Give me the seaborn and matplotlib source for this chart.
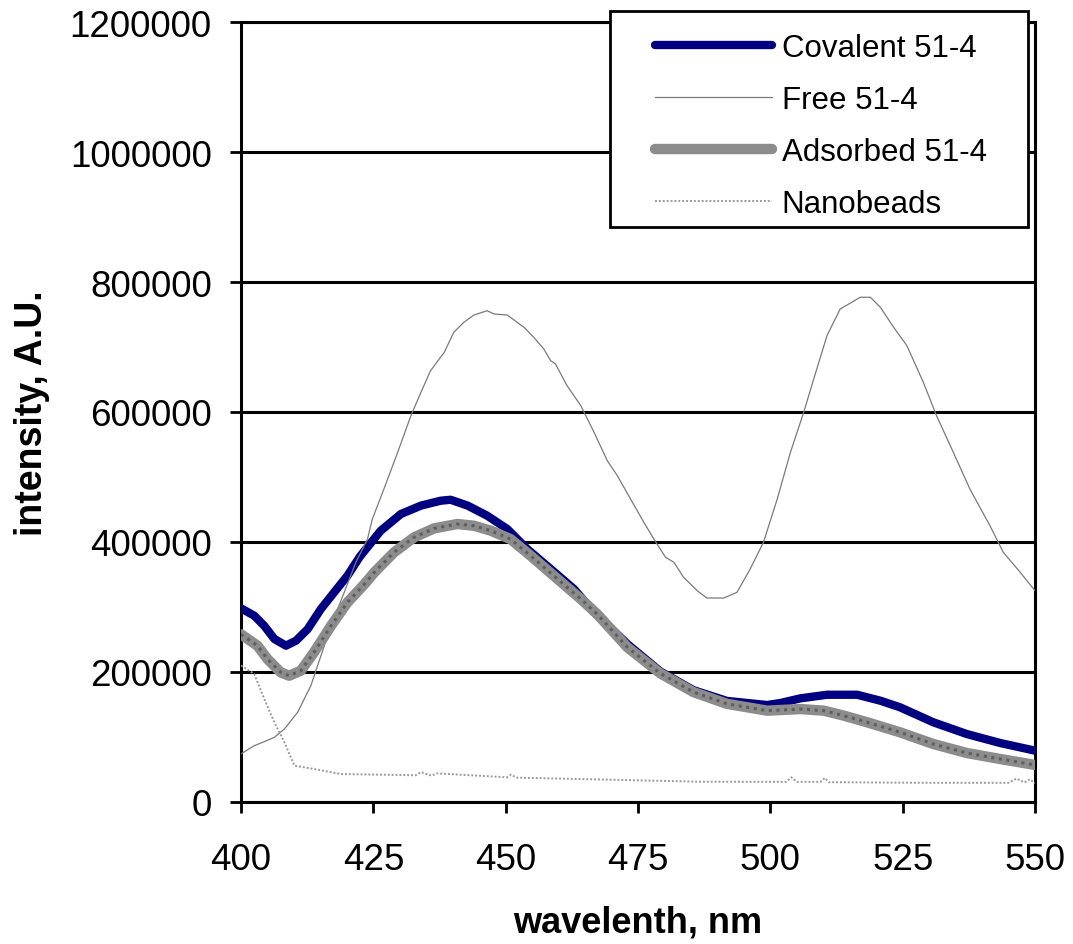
import numpy as np
import pandas as pd
import matplotlib
matplotlib.use("Agg")
import matplotlib.pyplot as plt
from matplotlib.patches import Rectangle
import seaborn as sns

# Emission spectra (wavelength in nm, intensity in A.U.)
covalent_wl = [400, 402.5, 404.4, 406.3, 408.5, 410.4, 412.6, 415.1, 417.6, 420.1,
               422.5, 426.4, 430.2, 434.0, 437.7, 439.6, 442.8, 446.5, 450.3, 454.1,
               458.5, 462.9, 466.7, 473.0, 479.2, 485.5, 491.8, 499.4, 501.9, 505.7,
               510.7, 516.4, 520.8, 524.5, 530.8, 537.1, 543.4, 550]
covalent_int = [298000, 286600, 271000, 250800, 240500, 248200, 266000, 297000, 322600, 348000,
                378000, 417400, 443000, 456000, 463500, 465000, 456000, 440500, 420000, 389000,
                358500, 327700, 292000, 243000, 201000, 172000, 155500, 149200, 152300, 159500,
                165000, 165000, 155800, 145700, 122600, 104600, 90800, 79000]

free_wl = [400, 402.5, 404.4, 406.3, 408.2, 410.7, 413.2, 415.1, 417.0, 419.5,
           421.7, 423.9, 424.8, 427.0, 429.6, 432.1, 434.0, 435.8, 438.4, 440.2,
           442.1, 444.0, 446.5, 447.8, 450.3, 453.5, 455.3, 457.2, 458.5, 459.4,
           461.6, 464.2, 466.7, 469.2, 471.1, 473.6, 476.1, 478.0, 480.2, 481.8,
           483.6, 486.2, 488.0, 491.2, 493.7, 496.2, 498.7, 501.3, 503.8, 506.3,
           508.2, 510.7, 513.2, 517.0, 518.9, 520.8, 523.3, 525.8, 528.9, 531.4,
           534.0, 537.7, 541.5, 544.0, 547.2, 550]
free_int = [74000, 86600, 92800, 99500, 112300, 138000, 179000, 225000, 271000, 322600,
            368700, 404600, 435000, 481500, 538000, 594300, 630300, 663500, 691800, 722600,
            738000, 749200, 755800, 750800, 749200, 730000, 715000, 697000, 679000, 674000,
            640500, 609700, 568700, 525000, 502000, 466000, 430300, 404600, 376500, 368700,
            345700, 325000, 313800, 313800, 322600, 358500, 399500, 466000, 538000, 599500,
            650800, 717400, 758500, 776500, 776500, 761000, 730300, 702000, 645700, 594300,
            548200, 481500, 425000, 384200, 353400, 325000]

adsorbed_wl = [400, 403.1, 405.0, 407.5, 409.1, 411.3, 413.8, 417.0, 420.1, 423.3,
               425.2, 428.9, 432.7, 436.5, 440.9, 444.0, 447.2, 450.9, 454.7, 459.1,
               464.2, 467.3, 473.0, 479.2, 485.5, 491.8, 499.4, 505.7, 510.1, 513.9,
               518.3, 524.5, 530.8, 537.1, 543.4, 550]
adsorbed_int = [258000, 240500, 220000, 199500, 194300, 202000, 230300, 271000, 307000, 335000,
                353400, 384000, 407200, 421000, 427700, 425000, 417400, 404600, 379000, 348000,
                312300, 289000, 238000, 198000, 169000, 151000, 140500, 143000, 140500, 132800,
                122600, 107200, 89200, 75400, 66200, 57000]

beads_wl = [400, 402.5, 404.4, 406.3, 408.2, 410.1, 413.8, 418.9, 430.8, 433.0,
            434.0, 436.0, 437.0, 450.3, 451.0, 452.0, 486.8, 503.0, 504.0, 505.0,
            509.5, 510.3, 511.0, 530.0, 545.0, 546.5, 548.0, 549.0, 550]
beads_int = [210000, 197000, 158500, 122600, 91800, 55800, 50800, 43000, 41500, 41000,
             46000, 40500, 44000, 38000, 42000, 37500, 31200, 31000, 38000, 31000,
             31000, 37000, 30500, 29500, 29500, 36000, 30000, 35000, 29000]

series_names = ["Covalent 51-4", "Free 51-4", "Adsorbed 51-4", "Nanobeads"]

x_ticks = [400, 425, 450, 475, 500, 525, 550]
y_ticks = [0, 200000, 400000, 600000, 800000, 1000000, 1200000]
y_tick_labels = ["0", "200000", "400000", "600000", "800000", "1000000", "1200000"]

df = pd.concat([
    pd.DataFrame({"wl": covalent_wl, "intensity": covalent_int, "series": series_names[0]}),
    pd.DataFrame({"wl": free_wl, "intensity": free_int, "series": series_names[1]}),
    pd.DataFrame({"wl": adsorbed_wl, "intensity": adsorbed_int, "series": series_names[2]}),
    pd.DataFrame({"wl": beads_wl, "intensity": beads_int, "series": series_names[3]}),
], ignore_index=True)

sns.set_theme(style="white")
plt.rcParams["font.family"] = ["Liberation Sans", "DejaVu Sans"]
plt.rcParams["text.color"] = "black"

fig = plt.figure(figsize=(10.73, 9.45), dpi=100)
ax = fig.add_axes([241 / 1073, 1 - 803 / 945, 794 / 1073, 780 / 945])

styles = {
    "Covalent 51-4": dict(color="#000080", lw=6.0, ls="-", z=3),
    "Free 51-4": dict(color="#7a7a7a", lw=0.9, ls="-", z=4),
    "Adsorbed 51-4": dict(color="#8c8c8c", lw=7.5, ls="-", z=5),
    "Nanobeads": dict(color="#9a9a9a", lw=1.4, ls=(0, (1, 1)), z=6),
}

for name in series_names:
    st = styles[name]
    sub = df[df["series"] == name]
    sns.lineplot(data=sub, x="wl", y="intensity", ax=ax, color=st["color"],
                 linewidth=st["lw"], linestyle=st["ls"], label=name,
                 sort=False, estimator=None, zorder=st["z"])

# textured overlay on the adsorbed trace
sub = df[df["series"] == "Adsorbed 51-4"]
ax.plot(sub["wl"], sub["intensity"], color="#5e5e5e", lw=2.2,
        ls=(0, (1, 1.5)), zorder=5.5)

ax.set_xlim(400, 550)
ax.set_ylim(0, 1200000)
ax.set_xticks(x_ticks)
ax.set_xticklabels([str(t) for t in x_ticks])
ax.set_yticks(y_ticks)
ax.set_yticklabels(y_tick_labels)

ax.yaxis.grid(True, color="black", linewidth=2.2)
ax.xaxis.grid(False)
ax.set_axisbelow(True)

for sp in ax.spines.values():
    sp.set_color("black")
    sp.set_linewidth(2.2)

ax.tick_params(axis="both", direction="out", length=8, width=2,
               color="black", labelsize=26.5, labelcolor="black",
               left=True, bottom=True)
ax.tick_params(axis="y", pad=13)
ax.tick_params(axis="x", pad=21)

ax.set_xlabel("wavelenth, nm", fontsize=26, fontweight="bold", color="black")
ax.set_ylabel("intensity, A.U.", fontsize=27, fontweight="bold", color="black")
ax.xaxis.set_label_coords(0.5, -0.132)
ax.yaxis.set_label_coords(-0.24, 0.5)

# legend box
ax.add_patch(Rectangle((0.4647, 0.737), 0.991 - 0.4647, 1.0141 - 0.737,
                       transform=ax.transAxes, facecolor="white",
                       edgecolor="black", linewidth=2.0, clip_on=False,
                       zorder=9))
leg = ax.legend(loc="upper left", bbox_to_anchor=(0.5217, 0.986),
                fontsize=22.5, frameon=False, handlelength=3.75,
                handletextpad=0.3, borderpad=0.0, labelspacing=0.70,
                borderaxespad=0)
leg.set_zorder(10)
for txt in leg.get_texts():
    txt.set_color("black")

fig.savefig("out.png", dpi=100, facecolor="white")
